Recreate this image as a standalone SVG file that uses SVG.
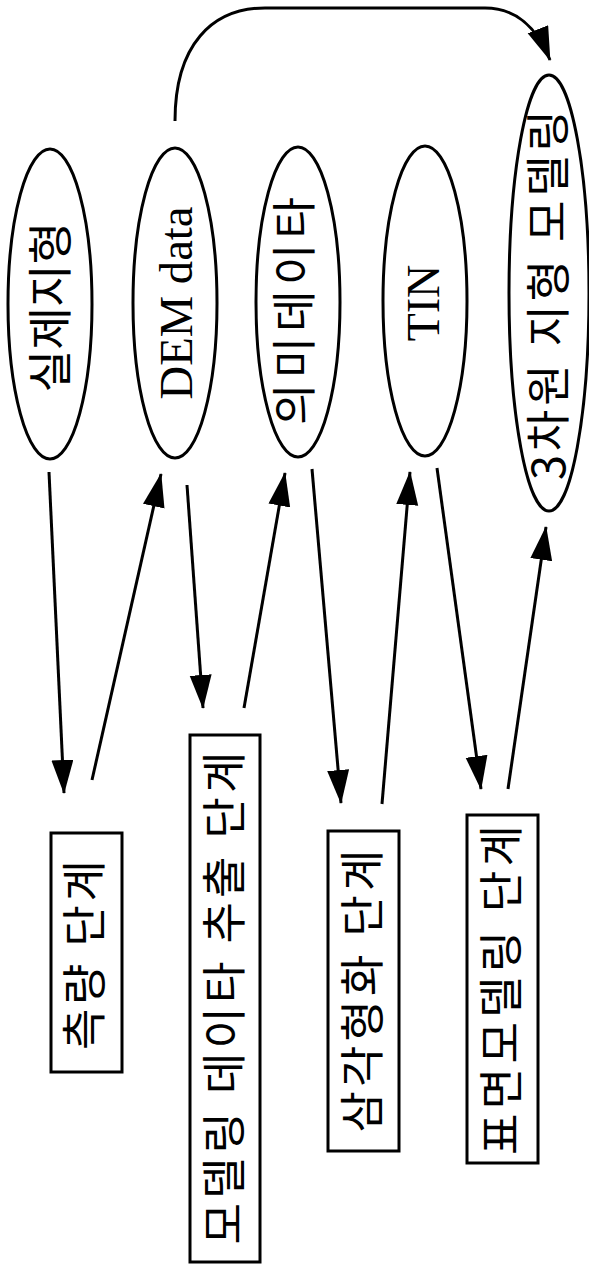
<svg xmlns="http://www.w3.org/2000/svg" width="589" height="1264" viewBox="0 0 589 1264">
<style>
.n{fill:#fff;stroke:#000;stroke-width:3}
.c{fill:none;stroke:#000;stroke-width:3;marker-end:url(#ah)}
.k{font-family:"Noto Sans CJK KR","Noto Sans CJK SC",sans-serif;font-size:45px;fill:#000;text-anchor:middle;dominant-baseline:central}
.l{font-family:"Liberation Serif","Times New Roman",serif;font-size:46px;fill:#000;text-anchor:middle;dominant-baseline:central}
</style>
<defs>
<marker id="ah" markerUnits="userSpaceOnUse" markerWidth="36" markerHeight="24" refX="33" refY="11" orient="auto">
<path d="M0,0 L34,11 L0,22 z" fill="#000"/>
</marker>
</defs>
<rect width="589" height="1264" fill="#fff"/>
<g id="connectors">
<path class="c" d="M175,121 C175,45 212,8 265,8 L485,8 C515,8 537,27 550,60"/>
<path class="c" d="M49,472 L64,793"/>
<path class="c" d="M92,780 L161,474"/>
<path class="c" d="M187,485 L203,708"/>
<path class="c" d="M244,708 L285,473"/>
<path class="c" d="M312,469 L341,803"/>
<path class="c" d="M382,804 L410,472"/>
<path class="c" d="M437,468 L481,789"/>
<path class="c" d="M508,789 L546,527"/>
</g>
<g id="n1">
<ellipse class="n" cx="50" cy="304" rx="42" ry="155"/>
<text class="k" transform="translate(47,307) rotate(-90)" textLength="171" lengthAdjust="spacingAndGlyphs" font-size="43">실제지형</text>
</g>
<g id="n2">
<ellipse class="n" cx="175" cy="303" rx="42" ry="155"/>
<text class="l" transform="translate(176,303) rotate(-90)" textLength="193" lengthAdjust="spacingAndGlyphs">DEM data</text>
</g>
<g id="n3">
<ellipse class="n" cx="298" cy="302" rx="42" ry="155"/>
<text class="k" transform="translate(291,311) rotate(-90)" textLength="228" lengthAdjust="spacing">의미데이타</text>
</g>
<g id="n4">
<ellipse class="n" cx="425" cy="301" rx="42" ry="155"/>
<text class="l" transform="translate(423,303) rotate(-90)">TIN</text>
</g>
<g id="n5">
<ellipse class="n" cx="549" cy="293" rx="40" ry="218"/>
<text class="k" transform="translate(545,295) rotate(-90)" textLength="370" lengthAdjust="spacing">3차원 지형 모델링</text>
</g>
<g id="b1">
<rect class="n" x="51" y="833" width="71" height="239"/>
<text class="k" transform="translate(81,955) rotate(-90)" textLength="190" lengthAdjust="spacing">측량 단계</text>
</g>
<g id="b2">
<rect class="n" x="190" y="735" width="70" height="527"/>
<text class="k" transform="translate(221,998) rotate(-90)" textLength="493" lengthAdjust="spacing">모델링 데이타 추출 단계</text>
</g>
<g id="b3">
<rect class="n" x="328" y="831" width="71" height="320"/>
<text class="k" transform="translate(359,991) rotate(-90)" textLength="283" lengthAdjust="spacing">삼각형화 단계</text>
</g>
<g id="b4">
<rect class="n" x="467" y="815" width="71" height="348"/>
<text class="k" transform="translate(498,990) rotate(-90)" textLength="330" lengthAdjust="spacing">표면모델링 단계</text>
</g>
</svg>
